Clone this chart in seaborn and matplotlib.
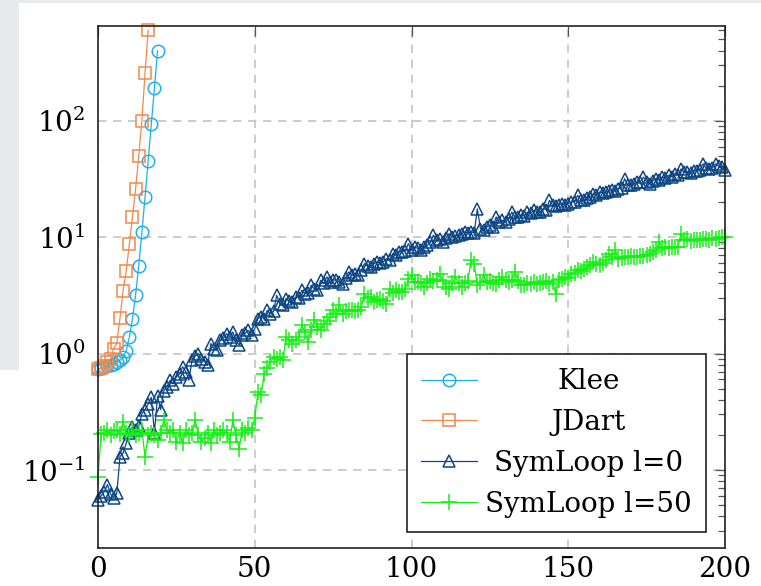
import matplotlib
matplotlib.use("Agg")
import matplotlib.pyplot as plt
import seaborn as sns
import numpy as np
import pandas as pd
from matplotlib.ticker import NullFormatter, LogLocator
from matplotlib.patches import Rectangle

# ---------------- data ----------------
klee_x = list(range(20))
klee_y = [0.74, 0.75, 0.76, 0.78, 0.80, 0.82, 0.85, 0.88, 0.93, 1.06,
          1.38, 1.99, 3.19, 5.7, 11.0, 22.0, 45.0, 93.0, 192.0, 399.0]

jdart_x = list(range(17))
jdart_y = [0.73, 0.75, 0.78, 0.84, 0.90, 1.10, 1.23, 2.01, 3.43, 5.16,
           8.7, 14.9, 25.9, 49.8, 100.0, 255.0, 601.0]

sym_x = list(range(201))
sym0_y = [
    0.055, 0.06, 0.065, 0.075, 0.062, 0.058, 0.063, 0.13, 0.14, 0.17, 0.21,
    0.235, 0.22, 0.24, 0.305, 0.33, 0.37, 0.42, 0.21, 0.43, 0.33,
    0.48, 0.52, 0.59, 0.55, 0.63, 0.67, 0.77, 0.7, 0.59, 0.88,
    0.95, 1.0, 0.9, 0.85, 0.79, 1.22, 1.1, 1.07, 1.3, 1.35,
    1.48, 1.4, 1.53, 1.3, 1.18, 1.44, 1.5, 1.58, 1.44, 1.64,
    2.0, 2.06, 2.0, 2.35, 2.2, 2.3, 3.16, 2.68, 2.6, 2.97,
    2.8, 2.77, 3.06, 3.0, 3.5, 3.27, 3.3, 3.86, 3.6, 3.5,
    4.26, 4.0, 4.55, 4.12, 4.3, 4.26, 4.1, 3.98, 4.5, 5.02,
    4.69, 4.8, 4.69, 5.2, 5.93, 5.6, 5.53, 5.9, 6.12, 6.0,
    6.12, 6.53, 6.3, 7.2, 7.0, 7.5, 7.5, 7.6, 8.8, 7.7,
    8.24, 8.0, 7.7, 8.2, 8.5, 9.0, 10.4, 9.4, 9.6, 9.1,
    9.8, 10.7, 10.0, 10.2, 10.4, 10.6, 11.1, 10.8, 11.1, 10.9,
    17.5, 11.8, 11.6, 12.2, 12.6, 12.3, 14.9, 13.4, 13.9, 13.5,
    14.4, 16.4, 14.9, 15.0, 15.4, 15.2, 16.4, 16.0, 17.0, 16.5,
    16.4, 17.5, 17.2, 20.7, 18.8, 18.5, 18.8, 19.4, 19.0, 19.4,
    20.0, 20.2, 22.8, 21.0, 20.7, 21.5, 22.0, 23.6, 23.0, 24.4,
    24.0, 24.4, 24.8, 25.2, 25.0, 26.1, 26.5, 31.7, 28.0, 27.9,
    28.8, 29.5, 30.0, 32.7, 30.0, 28.8, 30.5, 31.7, 31.0, 32.7,
    32.0, 33.9, 33.0, 34.9, 34.0, 38.5, 36.0, 36.1, 35.5, 37.3,
    37.0, 38.0, 42.6, 39.0, 38.5, 39.5, 42.6, 40.5, 40.0, 38.0,
]
sym50_y = [
    0.087, 0.205, 0.21, 0.22, 0.2, 0.215, 0.22, 0.205, 0.26, 0.21, 0.2,
    0.22, 0.2, 0.21, 0.22, 0.13, 0.2, 0.21, 0.2, 0.18, 0.21,
    0.268, 0.22, 0.21, 0.22, 0.175, 0.21, 0.17, 0.22, 0.2, 0.21,
    0.268, 0.2, 0.175, 0.19, 0.21, 0.17, 0.22, 0.2, 0.21, 0.22,
    0.21, 0.175, 0.268, 0.2, 0.153, 0.22, 0.21, 0.23, 0.22, 0.277,
    0.47, 0.44, 0.67, 0.75, 0.85, 0.94, 0.9, 0.94, 0.88, 1.39,
    1.3, 1.22, 1.3, 1.39, 1.75, 1.53, 1.26, 1.6, 1.93, 1.69,
    1.58, 1.81, 1.9, 2.06, 2.35, 2.2, 2.6, 2.2, 2.3, 2.35,
    2.35, 2.3, 2.35, 2.5, 3.27, 3.0, 3.06, 2.77, 2.9, 2.97,
    2.8, 2.68, 3.6, 3.3, 3.5, 3.4, 3.38, 3.6, 4.4, 4.69,
    4.12, 4.12, 4.0, 3.73, 4.0, 4.4, 4.2, 4.3, 4.86, 4.2,
    3.73, 3.6, 4.0, 4.55, 4.0, 3.73, 4.0, 4.2, 6.33, 5.93,
    3.86, 4.1, 4.69, 4.12, 4.2, 4.0, 3.98, 4.3, 4.55, 4.26,
    4.1, 4.3, 5.02, 4.2, 3.86, 3.86, 4.0, 3.98, 4.1, 3.98,
    4.0, 4.12, 4.2, 3.98, 4.1, 3.27, 4.26, 4.4, 4.55, 4.5,
    4.86, 4.9, 5.2, 5.1, 5.3, 5.5, 5.8, 6.12, 5.9, 5.72,
    6.0, 6.3, 7.2, 6.8, 7.7, 6.5, 6.6, 6.7, 6.8, 6.95,
    6.8, 6.7, 6.9, 6.95, 7.0, 7.2, 7.4, 7.7, 9.1, 8.0,
    8.2, 8.0, 8.2, 8.3, 8.2, 10.7, 9.5, 9.7, 9.3, 9.4,
    9.5, 9.4, 9.6, 9.7, 9.5, 9.8, 9.7, 9.9, 10.0, 10.0,
]

x_ticks = [0, 50, 100, 150, 200]

# ---------------- style ----------------
sns.set_style("white")
plt.rcParams["font.family"] = ["DejaVu Serif"]
plt.rcParams["mathtext.fontset"] = "dejavuserif"
plt.rcParams["text.color"] = "black"

W, H = 761, 586
fig = plt.figure(figsize=(W / 100, H / 100), dpi=100)
fig.patch.set_facecolor("white")
fig.patches.append(Rectangle((0, 1 - 3 / H), 1, 3 / H, transform=fig.transFigure,
                             facecolor="#e8e9eb", edgecolor="none", zorder=0))
fig.patches.append(Rectangle((0, 1 - 370 / H), 19 / W, 370 / H, transform=fig.transFigure,
                             facecolor="#e8e9eb", edgecolor="none", zorder=0))

ax = fig.add_axes([98 / W, 1 - 548 / H, 627 / W, 522 / H])
ax.set_facecolor("white")

series = [
    ("Klee", klee_x, klee_y, "#1eb0ee", "o", 9.0),
    ("JDart", jdart_x, jdart_y, "#f4884a", "s", 8.5),
    ("SymLoop l=0", sym_x, sym0_y, "#0d4685", "^", 9.0),
    ("SymLoop l=50", sym_x, sym50_y, "#14f014", "+", 11.0),
]
for name, xs, ys, col, mk, ms in series:
    sns.lineplot(x=xs, y=ys, ax=ax, color=col, marker=mk, markersize=ms,
                 mfc="none", mec=col, mew=1.1, linewidth=0.9, label=name,
                 clip_on=False, legend=False)

ax.set_yscale("log")
ax.set_xlim(0, 200)
ax.set_ylim(0.0214, 650)
ax.set_xticks(x_ticks)
ax.set_xticklabels([str(v) for v in x_ticks])
ax.yaxis.set_major_locator(LogLocator(base=10))
ax.yaxis.set_minor_locator(LogLocator(base=10, subs=np.arange(2, 10)))
ax.yaxis.set_minor_formatter(NullFormatter())
ax.set_xlabel("")
ax.set_ylabel("")

ax.set_axisbelow(True)
ax.grid(True, which="major", color="#c4c4c4", linestyle=(0, (5, 4)), linewidth=1.2)
ax.grid(False, which="minor")

ax.tick_params(which="both", direction="in", top=True, right=True,
               color="#555555", width=0.9, labelsize=20, labelcolor="black")
ax.tick_params(which="major", length=7)
ax.tick_params(which="minor", length=5)
ax.tick_params(axis="y", pad=9)
ax.tick_params(axis="x", pad=6)
for sp in ax.spines.values():
    sp.set_visible(True)
    sp.set_color("#222222")
    sp.set_linewidth(1.2)

leg = ax.legend(loc="lower right", bbox_to_anchor=(0.969, 0.031), borderaxespad=0,
                fontsize=20, frameon=True, fancybox=False, framealpha=1,
                edgecolor="#222222", handlelength=2.0, handletextpad=0.3,
                borderpad=0.5, labelspacing=0.5)
leg.get_frame().set_linewidth(1.2)
for t in leg.get_texts():
    t.set_color("black")

# center the legend labels in their column
fig.canvas.draw()
r = fig.canvas.get_renderer()
texts = leg.get_texts()
ws = [t.get_window_extent(r).width for t in texts]
wmax = max(ws)
for t, w in zip(texts, ws):
    t.set_x((wmax - w) / 2)

fig.savefig("out.png", dpi=100)
